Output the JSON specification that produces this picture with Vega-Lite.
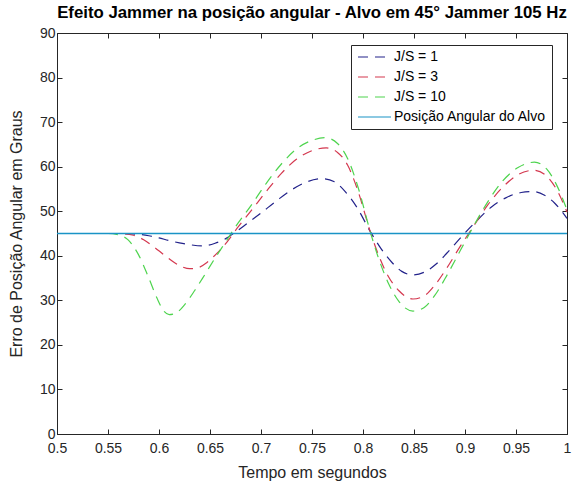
{
"$schema": "https://vega.github.io/schema/vega-lite/v6.json",
"width": 510, "height": 401,
"autosize": "none",
"padding": {"left": 57, "top": 33, "right": 14, "bottom": 54},
"background": "white",
"config": {
  "view": {"stroke": "#262626", "strokeWidth": 1},
  "font": "Liberation Sans",
  "axis": {"domainColor": "#262626", "tickColor": "#262626", "labelColor": "#262626", "titleColor": "#262626",
    "labelFont": "Liberation Sans", "titleFont": "Liberation Sans", "labelFontSize": 14, "titleFontSize": 16,
    "titleFontWeight": "normal", "tickSize": -5, "grid": false, "labelFlush": false, "labelOverlap": false, "labelBound": false},
  "legend": {"orient": "none", "legendX": 294, "legendY": 12, "strokeColor": "#262626", "fillColor": "white", "padding": 5,
    "symbolType": "M-1,0H5.6", "symbolSize": 100, "symbolStrokeWidth": 1.2, "labelFont": "Liberation Sans",
    "labelFontSize": 14, "labelColor": "#000000", "labelOffset": 24, "rowPadding": 6, "labelLimit": 300,
    "labelExpr": "datum.label + '\u00a0\u00a0\u00a0\u00a0'"}
},
"title": {"text": "Efeito Jammer na posição angular - Alvo em 45° Jammer 105 Hz", "font": "Liberation Sans", "fontSize": 16.8, "fontWeight": "bold", "color": "#000000", "offset": 4, "anchor": "middle", "frame": "group"},
"data": {"values": [
{"t":0.5,"v":45,"s":"J/S = 1"},{"t":0.52,"v":45,"s":"J/S = 1"},{"t":0.54,"v":45,"s":"J/S = 1"},{"t":0.56,"v":45,"s":"J/S = 1"},{"t":0.575,"v":44.9,"s":"J/S = 1"},{"t":0.59,"v":44.5,"s":"J/S = 1"},{"t":0.6,"v":44.0,"s":"J/S = 1"},{"t":0.61,"v":43.4,"s":"J/S = 1"},{"t":0.62,"v":42.9,"s":"J/S = 1"},{"t":0.63,"v":42.5,"s":"J/S = 1"},{"t":0.643,"v":42.2,"s":"J/S = 1"},{"t":0.655,"v":42.8,"s":"J/S = 1"},{"t":0.665,"v":43.8,"s":"J/S = 1"},{"t":0.675,"v":45.3,"s":"J/S = 1"},{"t":0.685,"v":47.0,"s":"J/S = 1"},{"t":0.7,"v":49.6,"s":"J/S = 1"},{"t":0.715,"v":52.3,"s":"J/S = 1"},{"t":0.73,"v":54.8,"s":"J/S = 1"},{"t":0.745,"v":56.6,"s":"J/S = 1"},{"t":0.76,"v":57.3,"s":"J/S = 1"},{"t":0.772,"v":56.6,"s":"J/S = 1"},{"t":0.783,"v":54.3,"s":"J/S = 1"},{"t":0.795,"v":50.5,"s":"J/S = 1"},{"t":0.807,"v":45.5,"s":"J/S = 1"},{"t":0.818,"v":41.5,"s":"J/S = 1"},{"t":0.828,"v":38.6,"s":"J/S = 1"},{"t":0.838,"v":36.5,"s":"J/S = 1"},{"t":0.849,"v":35.7,"s":"J/S = 1"},{"t":0.86,"v":36.3,"s":"J/S = 1"},{"t":0.872,"v":38.2,"s":"J/S = 1"},{"t":0.885,"v":41.3,"s":"J/S = 1"},{"t":0.897,"v":44.4,"s":"J/S = 1"},{"t":0.91,"v":47.5,"s":"J/S = 1"},{"t":0.925,"v":50.8,"s":"J/S = 1"},{"t":0.94,"v":53.0,"s":"J/S = 1"},{"t":0.955,"v":54.2,"s":"J/S = 1"},{"t":0.967,"v":54.4,"s":"J/S = 1"},{"t":0.978,"v":53.6,"s":"J/S = 1"},{"t":0.988,"v":51.8,"s":"J/S = 1"},{"t":1.0,"v":48.4,"s":"J/S = 1"},
{"t":0.5,"v":45,"s":"J/S = 3"},{"t":0.56,"v":45,"s":"J/S = 3"},{"t":0.575,"v":44.6,"s":"J/S = 3"},{"t":0.585,"v":43.6,"s":"J/S = 3"},{"t":0.595,"v":42.0,"s":"J/S = 3"},{"t":0.605,"v":40.2,"s":"J/S = 3"},{"t":0.615,"v":38.5,"s":"J/S = 3"},{"t":0.623,"v":37.5,"s":"J/S = 3"},{"t":0.63,"v":37.1,"s":"J/S = 3"},{"t":0.638,"v":37.3,"s":"J/S = 3"},{"t":0.647,"v":38.5,"s":"J/S = 3"},{"t":0.657,"v":40.6,"s":"J/S = 3"},{"t":0.667,"v":43.2,"s":"J/S = 3"},{"t":0.677,"v":46.3,"s":"J/S = 3"},{"t":0.69,"v":50.0,"s":"J/S = 3"},{"t":0.705,"v":54.4,"s":"J/S = 3"},{"t":0.72,"v":58.5,"s":"J/S = 3"},{"t":0.735,"v":61.7,"s":"J/S = 3"},{"t":0.75,"v":63.6,"s":"J/S = 3"},{"t":0.764,"v":64.2,"s":"J/S = 3"},{"t":0.775,"v":63.2,"s":"J/S = 3"},{"t":0.785,"v":60.3,"s":"J/S = 3"},{"t":0.795,"v":54.6,"s":"J/S = 3"},{"t":0.807,"v":45.5,"s":"J/S = 3"},{"t":0.815,"v":40.3,"s":"J/S = 3"},{"t":0.825,"v":35.3,"s":"J/S = 3"},{"t":0.835,"v":32.2,"s":"J/S = 3"},{"t":0.849,"v":30.3,"s":"J/S = 3"},{"t":0.86,"v":31.0,"s":"J/S = 3"},{"t":0.87,"v":33.3,"s":"J/S = 3"},{"t":0.882,"v":37.2,"s":"J/S = 3"},{"t":0.895,"v":42.0,"s":"J/S = 3"},{"t":0.908,"v":46.5,"s":"J/S = 3"},{"t":0.922,"v":51.3,"s":"J/S = 3"},{"t":0.937,"v":55.4,"s":"J/S = 3"},{"t":0.952,"v":58.2,"s":"J/S = 3"},{"t":0.968,"v":59.2,"s":"J/S = 3"},{"t":0.98,"v":57.9,"s":"J/S = 3"},{"t":0.99,"v":54.8,"s":"J/S = 3"},{"t":1.0,"v":49.8,"s":"J/S = 3"},
{"t":0.5,"v":45,"s":"J/S = 10"},{"t":0.55,"v":45,"s":"J/S = 10"},{"t":0.56,"v":44.7,"s":"J/S = 10"},{"t":0.57,"v":43.5,"s":"J/S = 10"},{"t":0.58,"v":40.2,"s":"J/S = 10"},{"t":0.59,"v":35.0,"s":"J/S = 10"},{"t":0.598,"v":30.5,"s":"J/S = 10"},{"t":0.605,"v":27.5,"s":"J/S = 10"},{"t":0.61,"v":26.8,"s":"J/S = 10"},{"t":0.617,"v":27.2,"s":"J/S = 10"},{"t":0.625,"v":29.0,"s":"J/S = 10"},{"t":0.635,"v":32.2,"s":"J/S = 10"},{"t":0.645,"v":35.8,"s":"J/S = 10"},{"t":0.655,"v":39.5,"s":"J/S = 10"},{"t":0.665,"v":43.0,"s":"J/S = 10"},{"t":0.675,"v":46.5,"s":"J/S = 10"},{"t":0.69,"v":51.2,"s":"J/S = 10"},{"t":0.705,"v":56.2,"s":"J/S = 10"},{"t":0.72,"v":60.6,"s":"J/S = 10"},{"t":0.735,"v":64.0,"s":"J/S = 10"},{"t":0.75,"v":65.9,"s":"J/S = 10"},{"t":0.763,"v":66.5,"s":"J/S = 10"},{"t":0.775,"v":65.2,"s":"J/S = 10"},{"t":0.785,"v":61.8,"s":"J/S = 10"},{"t":0.795,"v":55.5,"s":"J/S = 10"},{"t":0.807,"v":45.5,"s":"J/S = 10"},{"t":0.815,"v":39.6,"s":"J/S = 10"},{"t":0.825,"v":33.8,"s":"J/S = 10"},{"t":0.835,"v":29.8,"s":"J/S = 10"},{"t":0.849,"v":27.6,"s":"J/S = 10"},{"t":0.86,"v":28.4,"s":"J/S = 10"},{"t":0.87,"v":31.0,"s":"J/S = 10"},{"t":0.882,"v":35.5,"s":"J/S = 10"},{"t":0.895,"v":41.0,"s":"J/S = 10"},{"t":0.908,"v":46.5,"s":"J/S = 10"},{"t":0.922,"v":52.0,"s":"J/S = 10"},{"t":0.937,"v":56.8,"s":"J/S = 10"},{"t":0.952,"v":59.8,"s":"J/S = 10"},{"t":0.968,"v":61.0,"s":"J/S = 10"},{"t":0.98,"v":59.5,"s":"J/S = 10"},{"t":0.99,"v":55.8,"s":"J/S = 10"},{"t":1.0,"v":50.3,"s":"J/S = 10"},
{"t":0.5,"v":45,"s":"Posição Angular do Alvo"},{"t":1.0,"v":45,"s":"Posição Angular do Alvo"}
]},
"layer": [
  {"mark": {"type": "line", "interpolate": "monotone"},
   "encoding": {
     "x": {"field": "t", "type": "quantitative", "scale": {"domain": [0.5, 1], "nice": false, "zero": false},
       "axis": {"values": [0.5,0.55,0.6,0.65,0.7,0.75,0.8,0.85,0.9,0.95,1], "format": "~g", "title": "Tempo em segundos", "labelPadding": 12, "titlePadding": 9}},
     "y": {"field": "v", "type": "quantitative", "scale": {"domain": [0, 90], "nice": false, "zero": false},
       "axis": {"values": [0,10,20,30,40,50,60,70,80,90], "title": "Erro de Posição Angular em Graus", "labelPadding": 7, "titlePadding": 15}},
     "color": {"field": "s", "type": "nominal",
       "scale": {"domain": ["J/S = 1", "J/S = 3", "J/S = 10", "Posição Angular do Alvo"], "range": ["#22228a", "#d4384f", "#4ed44e", "#1a94c6"]},
       "legend": {"title": null}},
     "strokeDash": {"field": "s", "type": "nominal",
       "scale": {"domain": ["J/S = 1", "J/S = 3", "J/S = 10", "Posição Angular do Alvo"], "range": [[10, 7], [10, 7], [10, 7], [2000, 1]]},
       "legend": {"title": null}},
     "strokeWidth": {"field": "s", "type": "nominal",
       "scale": {"domain": ["J/S = 1", "J/S = 3", "J/S = 10", "Posição Angular do Alvo"], "range": [1.2, 1.2, 1.2, 1.6]},
       "legend": null}
   }},
  {"transform": [{"filter": "datum.s === 'Posição Angular do Alvo'"}],
   "mark": {"type": "line", "color": "#1a94c6", "strokeWidth": 1.6},
   "encoding": {
     "x": {"field": "t", "type": "quantitative", "scale": {"domain": [0.5, 1], "nice": false, "zero": false},
       "axis": {"orient": "top", "values": [0.5,0.55,0.6,0.65,0.7,0.75,0.8,0.85,0.9,0.95,1], "labels": false, "title": null, "domain": false}},
     "y": {"field": "v", "type": "quantitative", "scale": {"domain": [0, 90], "nice": false, "zero": false},
       "axis": {"orient": "right", "values": [0,10,20,30,40,50,60,70,80,90], "labels": false, "title": null, "domain": false}}
   }}
],
"resolve": {"axis": {"x": "independent", "y": "independent"}}
}
